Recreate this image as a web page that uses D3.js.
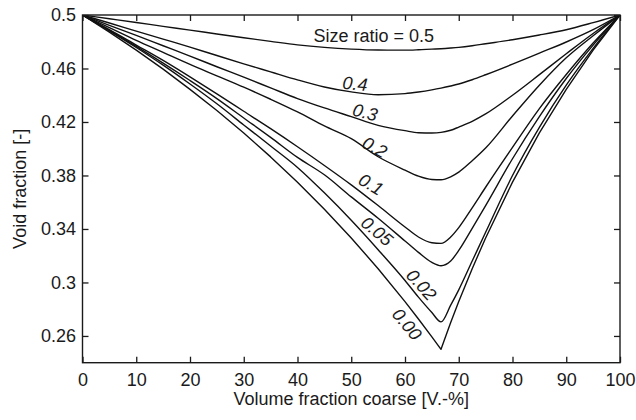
<!DOCTYPE html>
<html>
<head>
<meta charset="utf-8">
<script src="https://cdn.jsdelivr.net/npm/d3@7"></script>
<style>
  body { margin: 0; background: #fff; }
  svg { display: block; }
</style>
</head>
<body>
<svg id="chart" width="636" height="420"></svg>
<script>
// ---------- data ----------
const xCoarse = [0,5,10,15,20,25,30,35,40,45,50,55,60,62.5,65,66.7,68.5,70,72.5,75,80,85,90,95,100];

const void050 = [0.5,0.4972,0.4944,0.4915,0.4887,0.4858,0.483,0.4803,0.4777,0.4758,0.4745,0.4738,0.4737,0.474,0.4745,0.4748,0.4753,0.4758,0.477,0.4785,0.4815,0.485,0.489,0.4943,0.5];
const void040 = [0.5,0.494,0.488,0.482,0.476,0.4697,0.4635,0.4575,0.4515,0.4462,0.4425,0.4404,0.4412,0.4424,0.444,0.4453,0.4469,0.4484,0.4516,0.4553,0.4632,0.4715,0.4798,0.489,0.5];
const void030 = [0.5,0.4923,0.4847,0.477,0.4693,0.4613,0.4535,0.4455,0.4375,0.4305,0.424,0.4175,0.4135,0.412,0.4118,0.4122,0.4138,0.4162,0.4205,0.426,0.44,0.4554,0.471,0.4862,0.5];
const void020 = [0.5,0.4905,0.481,0.472,0.463,0.4545,0.446,0.437,0.4275,0.417,0.4075,0.394,0.384,0.3795,0.377,0.3768,0.379,0.3825,0.391,0.4005,0.4245,0.4475,0.468,0.4845,0.5];
const void010 = [0.5,0.489,0.4775,0.466,0.4537,0.441,0.428,0.415,0.4015,0.3875,0.373,0.3575,0.3415,0.334,0.3297,0.3292,0.334,0.341,0.3558,0.3712,0.401,0.43,0.4555,0.479,0.5];
const void005 = [0.5,0.4885,0.4765,0.464,0.451,0.4375,0.423,0.4085,0.3935,0.3805,0.364,0.348,0.331,0.3225,0.315,0.3125,0.316,0.324,0.3405,0.3575,0.3925,0.424,0.4525,0.4775,0.5];
const void002 = [0.5,0.4882,0.4757,0.4625,0.4484,0.4336,0.4178,0.402,0.386,0.367,0.3465,0.3245,0.3015,0.289,0.2775,0.2705,0.283,0.2945,0.316,0.3375,0.38,0.416,0.4475,0.475,0.5];
const void000 = [0.5,0.4872,0.4737,0.4595,0.4444,0.4286,0.4118,0.3939,0.375,0.3548,0.3333,0.3103,0.2857,0.2727,0.2593,0.25,0.2701,0.2857,0.3103,0.3333,0.375,0.4118,0.4444,0.4737,0.5];

const sizeRatios = ["Size ratio = 0.5","0.4","0.3","0.2","0.1","0.05","0.02","0.00"];
const seriesValues = [void050, void040, void030, void020, void010, void005, void002, void000];

// label anchor points along the curves (data coords) and text angle
const labelX = [54.2, 50.7, 52.6, 54.4, 53.7, 54.8, 63.1, 60.4];
const labelV = [0.4847, 0.4488, 0.4274, 0.4013, 0.3736, 0.3385, 0.2984, 0.2689];
const labelAngle = [0, 5, 14, 28, 31, 40, 48, 50];

const xTicks = [0,10,20,30,40,50,60,70,80,90,100];
const yTicks = [0.26,0.30,0.34,0.38,0.42,0.46,0.50];
const yTickLabels = ["0.26","0.3","0.34","0.38","0.42","0.46","0.5"];

const xTitle = "Volume fraction coarse [V.-%]";
const yTitle = "Void fraction [-]";

// ---------- drawing ----------
const FONT = "'Liberation Sans', Arial, Helvetica, sans-serif";
const INK = "#1a1a1a";
const svg = d3.select("#chart");
const plot = {left: 82.5, right: 620, top: 15, bottom: 362.7};

const x = d3.scaleLinear().domain([0, 100]).range([plot.left, plot.right]);
const y = d3.scaleLinear().domain([0.24, 0.5]).range([plot.bottom, plot.top]);

svg.append("defs").append("clipPath").attr("id", "clip")
  .append("rect")
  .attr("x", plot.left).attr("y", plot.top)
  .attr("width", plot.right - plot.left).attr("height", plot.bottom - plot.top);

// curves
const curvesG = svg.append("g").attr("clip-path", "url(#clip)");
seriesValues.forEach((vals, i) => {
  const pts = xCoarse.map((xv, j) => [xv, vals[j]]);
  const isCusp = (i === seriesValues.length - 1);
  const line = d3.line()
    .x(d => x(d[0])).y(d => y(d[1]))
    .curve(isCusp ? d3.curveLinear : d3.curveMonotoneX);
  curvesG.append("path")
    .attr("d", line(pts))
    .attr("fill", "none")
    .attr("stroke", "#111")
    .attr("stroke-width", 1.4)
    .attr("stroke-linejoin", "round");
});

// axes (ticks inward)
function styleAxis(g) {
  g.select(".domain").remove();
  g.selectAll(".tick line").attr("stroke", INK).attr("stroke-width", 1.3);
  g.selectAll("text").attr("font-size", 18).attr("font-family", FONT).attr("fill", INK);
}

svg.append("g").attr("transform", `translate(0,${plot.bottom})`)
  .call(d3.axisBottom(x).tickValues(xTicks).tickSize(-6).tickPadding(11).tickFormat(d => String(d)))
  .call(styleAxis);

svg.append("g").attr("transform", `translate(0,${plot.top})`)
  .call(d3.axisTop(x).tickValues(xTicks).tickSize(-6).tickFormat(() => ""))
  .call(styleAxis);

svg.append("g").attr("transform", `translate(${plot.left},0)`)
  .call(d3.axisLeft(y).tickValues(yTicks).tickSize(-6).tickPadding(6.5)
        .tickFormat((d, i) => yTickLabels[i]))
  .call(styleAxis);

svg.append("g").attr("transform", `translate(${plot.right},0)`)
  .call(d3.axisRight(y).tickValues(yTicks).tickSize(-6).tickFormat(() => ""))
  .call(styleAxis);

// frame
svg.append("rect")
  .attr("x", plot.left).attr("y", plot.top)
  .attr("width", plot.right - plot.left).attr("height", plot.bottom - plot.top)
  .attr("fill", "none").attr("stroke", INK).attr("stroke-width", 1.4);

// curve labels
sizeRatios.forEach((t, i) => {
  const px = x(labelX[i]), py = y(labelV[i]);
  svg.append("text")
    .attr("transform", `translate(${px},${py}) rotate(${labelAngle[i]})`)
    .attr("text-anchor", "middle")
    .attr("dy", "0.36em")
    .attr("font-family", FONT)
    .attr("font-size", 18)
    .attr("font-style", i === 0 ? "normal" : "italic")
    .attr("fill", INK)
    .text(t);
});

// axis titles
svg.append("text")
  .attr("x", (plot.left + plot.right) / 2).attr("y", 405)
  .attr("text-anchor", "middle")
  .attr("font-family", FONT).attr("font-size", 18).attr("fill", INK)
  .text(xTitle);

svg.append("text")
  .attr("transform", `translate(26,${(plot.top + plot.bottom) / 2}) rotate(-90)`)
  .attr("text-anchor", "middle")
  .attr("font-family", FONT).attr("font-size", 18).attr("fill", INK)
  .text(yTitle);
</script>
</body>
</html>
